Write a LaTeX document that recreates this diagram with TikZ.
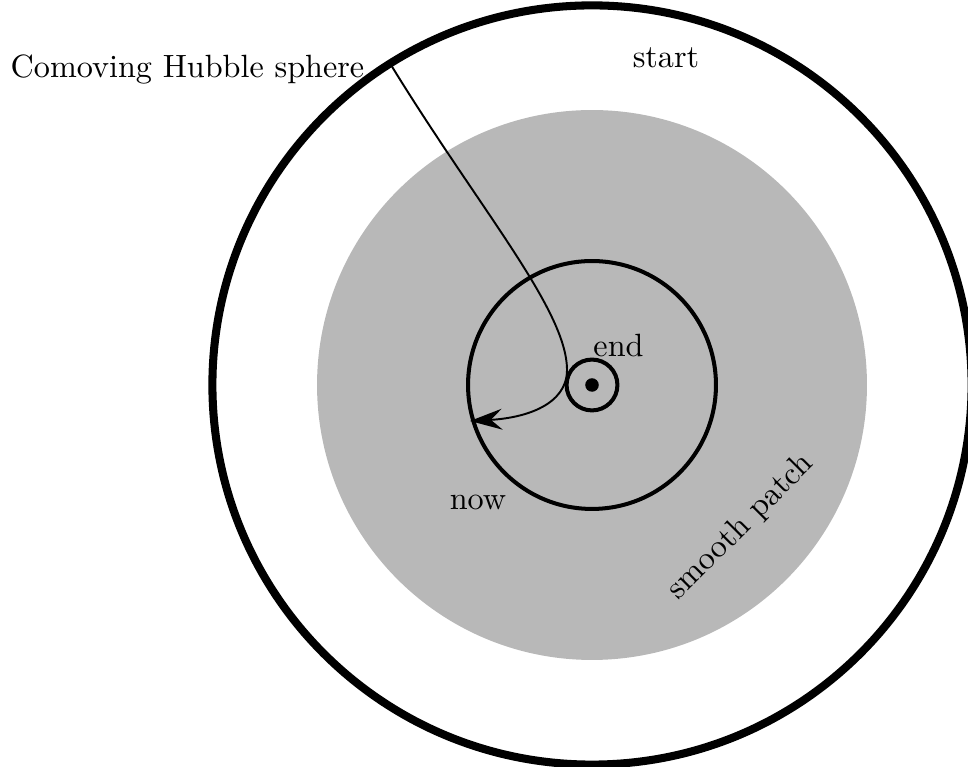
\documentclass[tikz,border=0pt]{standalone}
\usetikzlibrary{arrows.meta}
\definecolor{patchgray}{RGB}{184,184,184}
\begin{document}
\begin{tikzpicture}[x=0.3106pt,y=-0.3106pt,
  lbl/.style={inner sep=0pt,anchor=base,font=\fontsize{10}{12}\selectfont},
  ring/.style={draw=black,line width=1.25pt},
  outerring/.style={draw=black,line width=2.5pt},
  flow/.style={draw=black,line width=0.6pt,-{Stealth[length=10pt,width=6.5pt,inset=3.5pt]}}]
\useasboundingbox (0,0) rectangle (968,767);
\coordinate (c) at (592,385);
% smooth patch
\fill[patchgray] (c) circle[radius=85.4pt];
% outer circle
\draw[outerring] (c) circle[radius=117.9pt];
% now circle
\draw[ring] (c) circle[radius=38.5pt];
% end circle and dot
\draw[ring] (c) circle[radius=7.9pt];
\fill[black] (c) circle[radius=2.1pt];
% labels
\node[lbl] (hubble) at (187.5,78) {Comoving Hubble sphere};
\node[lbl] (start) at (666,67.5) {start};
\node[lbl] (endl) at (618.5,356.5) {end};
\node[lbl] (nowl) at (478,510) {now};
\node[inner sep=0pt,font=\fontsize{10}{12}\selectfont,rotate=45] (patch) at (741,527) {smooth patch};
% connector
\coordinate (hs) at (391,65);
\coordinate (mid) at (567,370);
\coordinate (now) at (470,421);
\draw[flow] (hs) .. controls (480,210) and (567,310) .. (mid)
  .. controls (567,405) and (525,418) .. (now);
\end{tikzpicture}
\end{document}
